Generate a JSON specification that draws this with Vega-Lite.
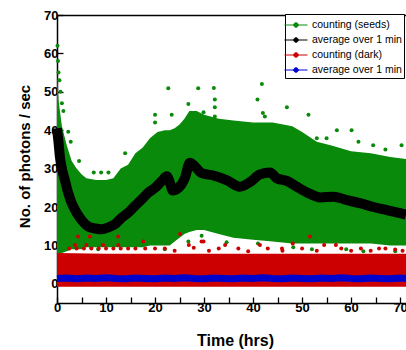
{
  "$schema": "https://vega.github.io/schema/vega-lite/v6.json",
  "width": 349,
  "height": 288,
  "autosize": "none",
  "padding": {"left": 57, "top": 15, "right": 0, "bottom": 47},
  "background": "white",
  "config": {
    "view": {"stroke": null},
    "font": "Liberation Sans",
    "axis": {
      "labelFont": "Liberation Sans", "labelFontWeight": "bold", "labelFontSize": 13, "labelColor": "black",
      "titleFont": "Liberation Sans", "titleFontWeight": "bold", "titleColor": "black",
      "domainColor": "black", "domainWidth": 1.5, "tickColor": "black", "tickWidth": 1.3, "grid": false
    },
    "legend": {"labelFont": "Liberation Sans"}
  },
  "datasets": {
    "green": [
      {"t": 0, "lo": 8, "hi": 55}, {"t": 0.3, "lo": 8, "hi": 48}, {"t": 1, "lo": 8, "hi": 41},
      {"t": 2, "lo": 8.5, "hi": 36}, {"t": 3, "lo": 9, "hi": 32}, {"t": 4, "lo": 9, "hi": 30},
      {"t": 5, "lo": 9, "hi": 28.5}, {"t": 6, "lo": 9.5, "hi": 27.5}, {"t": 8, "lo": 9.5, "hi": 27},
      {"t": 10, "lo": 9.5, "hi": 27}, {"t": 11.5, "lo": 9.5, "hi": 27.5}, {"t": 13, "lo": 9.5, "hi": 30},
      {"t": 14.5, "lo": 9.5, "hi": 31}, {"t": 16, "lo": 9.5, "hi": 34}, {"t": 17.5, "lo": 9.5, "hi": 35.5},
      {"t": 19, "lo": 10, "hi": 38}, {"t": 20.5, "lo": 10, "hi": 39.5}, {"t": 22, "lo": 10, "hi": 40},
      {"t": 23, "lo": 10, "hi": 40}, {"t": 24, "lo": 11, "hi": 40.5}, {"t": 25, "lo": 12, "hi": 41.5},
      {"t": 26, "lo": 13, "hi": 43}, {"t": 27, "lo": 13.5, "hi": 45}, {"t": 28.5, "lo": 14, "hi": 45},
      {"t": 30, "lo": 14, "hi": 44}, {"t": 33, "lo": 13, "hi": 43}, {"t": 36, "lo": 12, "hi": 42.5},
      {"t": 40, "lo": 11.5, "hi": 42}, {"t": 44, "lo": 11, "hi": 42}, {"t": 48, "lo": 10.5, "hi": 41},
      {"t": 50, "lo": 10.5, "hi": 39.5}, {"t": 53, "lo": 10.5, "hi": 37}, {"t": 56, "lo": 10.5, "hi": 36},
      {"t": 60, "lo": 10.5, "hi": 34.5}, {"t": 64, "lo": 10.5, "hi": 34}, {"t": 68, "lo": 10, "hi": 33},
      {"t": 71.2, "lo": 10, "hi": 32.5}
    ],
    "gpts": [
      {"t": 0.1, "v": 62}, {"t": 0.2, "v": 58}, {"t": 0.3, "v": 55}, {"t": 0.5, "v": 53}, {"t": 0.7, "v": 50},
      {"t": 1.0, "v": 47}, {"t": 1.3, "v": 45}, {"t": 2.3, "v": 39.6}, {"t": 2.8, "v": 37}, {"t": 4.5, "v": 32},
      {"t": 7.5, "v": 29}, {"t": 9, "v": 29}, {"t": 10.5, "v": 29}, {"t": 13.9, "v": 34}, {"t": 16.3, "v": 33.5},
      {"t": 20, "v": 44}, {"t": 20, "v": 42}, {"t": 22.7, "v": 50.9}, {"t": 23.4, "v": 44}, {"t": 26.8, "v": 46.8},
      {"t": 28.8, "v": 50.9}, {"t": 29.9, "v": 44.7}, {"t": 32, "v": 51}, {"t": 32.2, "v": 48}, {"t": 32.2, "v": 46},
      {"t": 32.2, "v": 43.6}, {"t": 40.9, "v": 48}, {"t": 41.8, "v": 52}, {"t": 42, "v": 44.5}, {"t": 42.4, "v": 43.6},
      {"t": 46.9, "v": 46}, {"t": 51.3, "v": 44}, {"t": 53, "v": 37.9}, {"t": 55, "v": 37.9}, {"t": 57.1, "v": 40},
      {"t": 60.1, "v": 40}, {"t": 61.5, "v": 37}, {"t": 64.5, "v": 36.1}, {"t": 67, "v": 35}, {"t": 70.3, "v": 36.1},
      {"t": 7, "v": 9.5}, {"t": 8.4, "v": 9}, {"t": 22, "v": 9}, {"t": 26.8, "v": 11}, {"t": 29.5, "v": 12.5},
      {"t": 34.6, "v": 10.8}, {"t": 41, "v": 10.5}, {"t": 48.2, "v": 9.5}, {"t": 52, "v": 9}, {"t": 59, "v": 9},
      {"t": 62.5, "v": 8.5}, {"t": 69, "v": 8.5}
    ],
    "avg": [
      {"t": 0, "v": 40.5}, {"t": 0.3, "v": 37}, {"t": 0.6, "v": 33}, {"t": 1, "v": 30}, {"t": 1.6, "v": 27},
      {"t": 2.3, "v": 23.6}, {"t": 3, "v": 21}, {"t": 3.7, "v": 19.2}, {"t": 4.5, "v": 17.5}, {"t": 5, "v": 16.6},
      {"t": 6.4, "v": 14.9}, {"t": 7.8, "v": 14.4}, {"t": 9.1, "v": 14.2}, {"t": 10.5, "v": 14.7}, {"t": 11.8, "v": 15.5},
      {"t": 13.2, "v": 17.2}, {"t": 14.6, "v": 18.6}, {"t": 15.9, "v": 20.3}, {"t": 17.3, "v": 22}, {"t": 18.6, "v": 23.7},
      {"t": 20, "v": 25}, {"t": 21.4, "v": 26.8}, {"t": 22.4, "v": 28}, {"t": 23, "v": 26.5}, {"t": 23.6, "v": 24.3},
      {"t": 24.8, "v": 25}, {"t": 26.1, "v": 27.6}, {"t": 27.1, "v": 31.5}, {"t": 28.2, "v": 30.5}, {"t": 29.5, "v": 28.8},
      {"t": 31.9, "v": 28.2}, {"t": 34.6, "v": 27}, {"t": 37.3, "v": 25.3}, {"t": 39.4, "v": 26.5}, {"t": 41.4, "v": 28.5},
      {"t": 43.5, "v": 29}, {"t": 44.8, "v": 27.5}, {"t": 46.9, "v": 26.8}, {"t": 48.9, "v": 25.3}, {"t": 51, "v": 23.8},
      {"t": 53.7, "v": 22.5}, {"t": 56.4, "v": 22.7}, {"t": 59.1, "v": 21.8}, {"t": 61.8, "v": 21}, {"t": 64.6, "v": 20},
      {"t": 67.3, "v": 19.2}, {"t": 70, "v": 18.4}, {"t": 71.2, "v": 18}
    ],
    "red": [
      {"t": 0, "lo": -0.8, "hi": 8}, {"t": 10, "lo": -0.8, "hi": 7.8}, {"t": 30, "lo": -0.8, "hi": 7.8},
      {"t": 50, "lo": -0.8, "hi": 7.8}, {"t": 71.2, "lo": -0.8, "hi": 7.8}
    ],
    "rpts": [
      {"t": 4.3, "v": 12.3}, {"t": 6.7, "v": 12.3}, {"t": 12.5, "v": 12.3}, {"t": 3.7, "v": 10.1}, {"t": 6, "v": 10.1},
      {"t": 9.4, "v": 10.1}, {"t": 12.5, "v": 10.1}, {"t": 17.6, "v": 11}, {"t": 25.1, "v": 13}, {"t": 29.5, "v": 11},
      {"t": 26.9, "v": 10.1}, {"t": 27.9, "v": 9.4}, {"t": 51.6, "v": 12.3}, {"t": 29.9, "v": 11}, {"t": 34.3, "v": 10.1},
      {"t": 41.4, "v": 10.1}, {"t": 45.9, "v": 9.2}, {"t": 54.5, "v": 10.1}, {"t": 56.9, "v": 10.1}, {"t": 65.7, "v": 9.2},
      {"t": 69, "v": 8.9}, {"t": 48.1, "v": 10.5}, {"t": 39, "v": 8.5}, {"t": 2.5, "v": 9.2}, {"t": 4, "v": 9.2},
      {"t": 5.5, "v": 9.2}, {"t": 7, "v": 9.2}, {"t": 8.5, "v": 9.2}, {"t": 10, "v": 9.2}, {"t": 11.5, "v": 9.2},
      {"t": 13, "v": 9.2}, {"t": 14.5, "v": 9.2}, {"t": 16, "v": 9.2}, {"t": 18, "v": 9.2}, {"t": 20, "v": 9.2},
      {"t": 22, "v": 9.2}, {"t": 33, "v": 9.2}, {"t": 37, "v": 9.2}, {"t": 43, "v": 9.2}, {"t": 50, "v": 9.2},
      {"t": 58, "v": 9.2}, {"t": 62, "v": 9.2}, {"t": 67, "v": 9.2}, {"t": 24, "v": 8.6}, {"t": 31, "v": 8.6},
      {"t": 46, "v": 8.6}, {"t": 53, "v": 8.6}, {"t": 60, "v": 8.6}, {"t": 64, "v": 8.6}, {"t": 70.5, "v": 8.6}
    ],
    "blue": [
      {"t": 0, "v": 1.4}, {"t": 2, "v": 1.5}, {"t": 4, "v": 1.3}, {"t": 6, "v": 1.5}, {"t": 8, "v": 1.4},
      {"t": 10, "v": 1.6}, {"t": 12, "v": 1.4}, {"t": 14, "v": 1.3}, {"t": 16, "v": 1.5}, {"t": 18, "v": 1.4},
      {"t": 20, "v": 1.3}, {"t": 22, "v": 1.5}, {"t": 24, "v": 1.4}, {"t": 26, "v": 1.6}, {"t": 28, "v": 1.4},
      {"t": 30, "v": 1.3}, {"t": 32, "v": 1.5}, {"t": 34, "v": 1.4}, {"t": 36, "v": 1.3}, {"t": 38, "v": 1.5},
      {"t": 40, "v": 1.4}, {"t": 42, "v": 1.6}, {"t": 44, "v": 1.4}, {"t": 46, "v": 1.3}, {"t": 48, "v": 1.5},
      {"t": 50, "v": 1.4}, {"t": 52, "v": 1.3}, {"t": 54, "v": 1.5}, {"t": 56, "v": 1.4}, {"t": 58, "v": 1.6},
      {"t": 60, "v": 1.4}, {"t": 62, "v": 1.3}, {"t": 64, "v": 1.5}, {"t": 66, "v": 1.4}, {"t": 68, "v": 1.3},
      {"t": 70, "v": 1.5}, {"t": 71.2, "v": 1.4}
    ]
  },
  "resolve": {"axis": {"x": "independent"}},
  "layer": [
    {
      "data": {"name": "green"},
      "mark": {"type": "area", "opacity": 1},
      "encoding": {
        "x": {"field": "t", "type": "quantitative",
          "scale": {"domain": [0, 71.2], "nice": false, "zero": false},
          "axis": {"orient": "bottom", "title": "Time (hrs)", "titleFontSize": 16, "titleX": 178, "titleY": 42,
            "titleBaseline": "alphabetic", "titleAnchor": "middle",
            "values": [0, 5, 10, 15, 20, 25, 30, 35, 40, 45, 50, 55, 60, 65, 70],
            "labelExpr": "datum.value % 10 === 0 ? datum.label : ''",
            "tickSize": -6, "labelPadding": 4, "labelFlush": false,
            "encode": {"ticks": {"update": {"y2": {"signal": "datum.value % 10 === 0 ? -6 : -3"}}}}}},
        "y": {"field": "lo", "type": "quantitative",
          "scale": {"domain": [-5, 70], "nice": false, "zero": false},
          "axis": {"title": "No. of photons / sec", "titleFontSize": 15, "titleX": -28, "titleY": 141,
            "titleAngle": -90, "titleBaseline": "alphabetic", "titleAnchor": "middle",
            "values": [0, 5, 10, 15, 20, 25, 30, 35, 40, 45, 50, 55, 60, 65, 70],
            "labelExpr": "datum.value % 10 === 0 ? datum.label : ''",
            "tickSize": -6, "labelPadding": 5, "labelFlush": false,
            "encode": {"ticks": {"update": {"x2": {"signal": "datum.value % 10 === 0 ? 6 : 3"}}}}}},
        "y2": {"field": "hi"},
        "color": {"datum": "seeds", "type": "nominal",
          "scale": {"domain": ["seeds", "seedsavg", "dark", "darkavg"], "range": ["#0a8a0a", "#000000", "#cc0000", "#0000cc"]},
          "legend": {"orient": "none", "legendX": 228, "legendY": -1, "title": null,
            "strokeColor": "black", "fillColor": "white", "padding": 2, "symbolSize": 289, "symbolOffset": 0,
            "symbolType": "M-1.35,0L1.35,0M-0.27,0A0.27,0.27,0,1,1,0.27,0A0.27,0.27,0,1,1,-0.27,0Z",
            "symbolStrokeWidth": 1,
            "labelOffset": 7, "labelFontSize": 10.5, "labelColor": "black", "rowPadding": 0,
            "labelExpr": "datum.value === 'seeds' ? 'counting (seeds)' : datum.value === 'dark' ? 'counting (dark)' : 'average over 1 min'",
            "encode": {"symbols": {"update": {
              "stroke": {"signal": "(datum.value === 'seeds' || datum.value === 'dark') ? 'transparent' : scale('color', datum.value)"},
              "strokeWidth": {"value": 1}
            }}}}}
      }
    },
    {
      "data": {"name": "gpts"},
      "mark": {"type": "circle", "size": 16, "opacity": 1},
      "encoding": {
        "x": {"field": "t", "type": "quantitative",
          "axis": {"orient": "top", "title": null, "labels": false, "ticks": false, "domain": true}},
        "y": {"field": "v", "type": "quantitative"},
        "color": {"datum": "seeds", "type": "nominal", "legend": null}
      }
    },
    {
      "data": {"name": "avg"},
      "mark": {"type": "line", "strokeWidth": 10, "interpolate": "monotone"},
      "encoding": {
        "x": {"field": "t", "type": "quantitative", "axis": null},
        "y": {"field": "v", "type": "quantitative"},
        "color": {"datum": "seedsavg", "type": "nominal", "legend": null}
      }
    },
    {
      "data": {"name": "red"},
      "mark": {"type": "area", "opacity": 1},
      "encoding": {
        "x": {"field": "t", "type": "quantitative", "axis": null},
        "y": {"field": "lo", "type": "quantitative"},
        "y2": {"field": "hi"},
        "color": {"datum": "dark", "type": "nominal", "legend": null}
      }
    },
    {
      "data": {"name": "rpts"},
      "mark": {"type": "circle", "size": 16, "opacity": 1},
      "encoding": {
        "x": {"field": "t", "type": "quantitative", "axis": null},
        "y": {"field": "v", "type": "quantitative"},
        "color": {"datum": "dark", "type": "nominal", "legend": null}
      }
    },
    {
      "data": {"name": "blue"},
      "mark": {"type": "line", "strokeWidth": 7},
      "encoding": {
        "x": {"field": "t", "type": "quantitative", "axis": null},
        "y": {"field": "v", "type": "quantitative"},
        "color": {"datum": "darkavg", "type": "nominal", "legend": null}
      }
    }
  ]
}
